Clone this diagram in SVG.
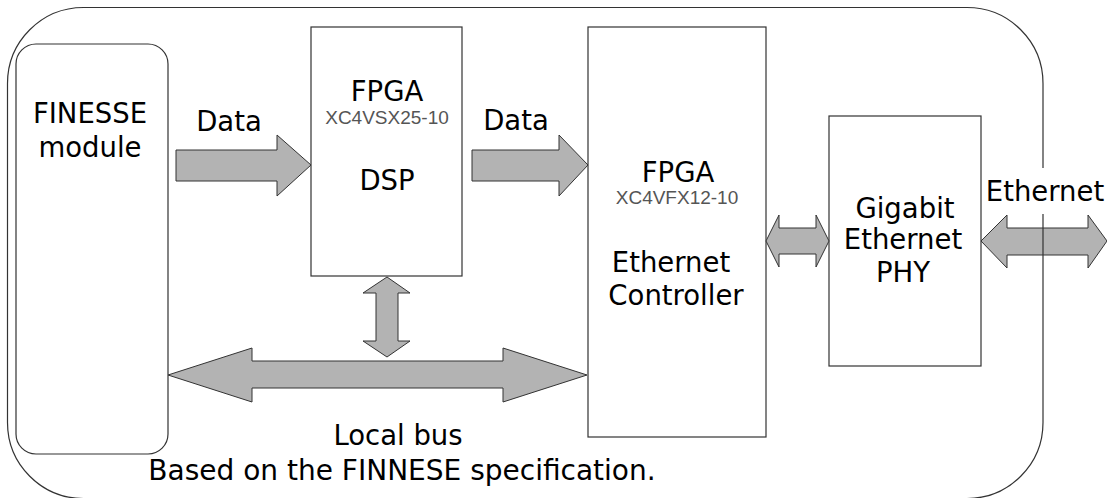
<svg xmlns="http://www.w3.org/2000/svg" width="1107" height="498" viewBox="0 0 1107 498">
<style>
.box{fill:#fff;stroke:#333;stroke-width:1.2}
.arrow{fill:#b3b3b3;stroke:#333;stroke-width:1}
.t{font-family:"DejaVu Sans",Verdana,sans-serif;font-size:27.5px;fill:#000;text-anchor:middle}
.s{font-family:"Liberation Sans",Arial,sans-serif;font-size:19px;fill:#555;text-anchor:middle}
</style>
<rect width="1107" height="498" fill="#fff"/>
<g id="finesse">
<rect class="box" x="16" y="44" width="152" height="410" rx="20" ry="20"/>
<text class="t" x="90" y="123">FINESSE</text>
<text class="t" x="90" y="157">module</text>
</g>
<g id="dsp">
<rect class="box" x="311" y="27" width="151" height="249"/>
<text class="t" x="387" y="101">FPGA</text>
<text class="s" x="387" y="124">XC4VSX25-10</text>
<text class="t" x="387" y="190">DSP</text>
</g>
<g id="ctrl">
<rect class="box" x="588" y="27" width="178" height="410"/>
<text class="t" x="678" y="182">FPGA</text>
<text class="s" x="677" y="204">XC4VFX12-10</text>
<text class="t" x="671" y="272">Ethernet</text>
<text class="t" x="676" y="305">Controller</text>
</g>
<g id="phy">
<rect class="box" x="829" y="116" width="152" height="250"/>
<text class="t" x="905" y="218">Gigabit</text>
<text class="t" x="903" y="249">Ethernet</text>
<text class="t" x="903" y="282">PHY</text>
</g>
<g id="connectors">
<polygon class="arrow" points="176,150 277,150 277,135 311,165 277,196 277,181 176,181"/>
<polygon class="arrow" points="472,150 559,150 559,135 588,165 559,196 559,181 472,181"/>
<polygon class="arrow" points="387,277 410,293 398,293 398,341 410,341 387,357 363,341 376,341 376,293 363,293"/>
<polygon class="arrow" points="168,375 252,348 252,361 503,361 503,348 587,375 503,402 503,388 252,388 252,402"/>
<polygon class="arrow" points="766,241 779,215 779,228 816,228 816,215 829,241 816,267 816,254 779,254 779,267"/>
<polygon class="arrow" points="981,241 1007,215 1007,228 1088,228 1088,215 1107,241 1088,268 1088,255 1007,255 1007,268"/>
<text class="t" x="229" y="131">Data</text>
<text class="t" x="516" y="130">Data</text>
</g>
<g id="board">
<rect x="7.5" y="7.5" width="1035.5" height="491" rx="76" ry="76" fill="none" stroke="#333" stroke-width="1.2"/>
<rect x="983" y="168" width="124" height="46" fill="#fff"/>
<text class="t" x="1045" y="201">Ethernet</text>
<text class="t" x="398" y="445">Local bus</text>
<text class="t" x="402" y="480" style="font-size:28px">Based on the FINNESE specification.</text>
</g>
</svg>
